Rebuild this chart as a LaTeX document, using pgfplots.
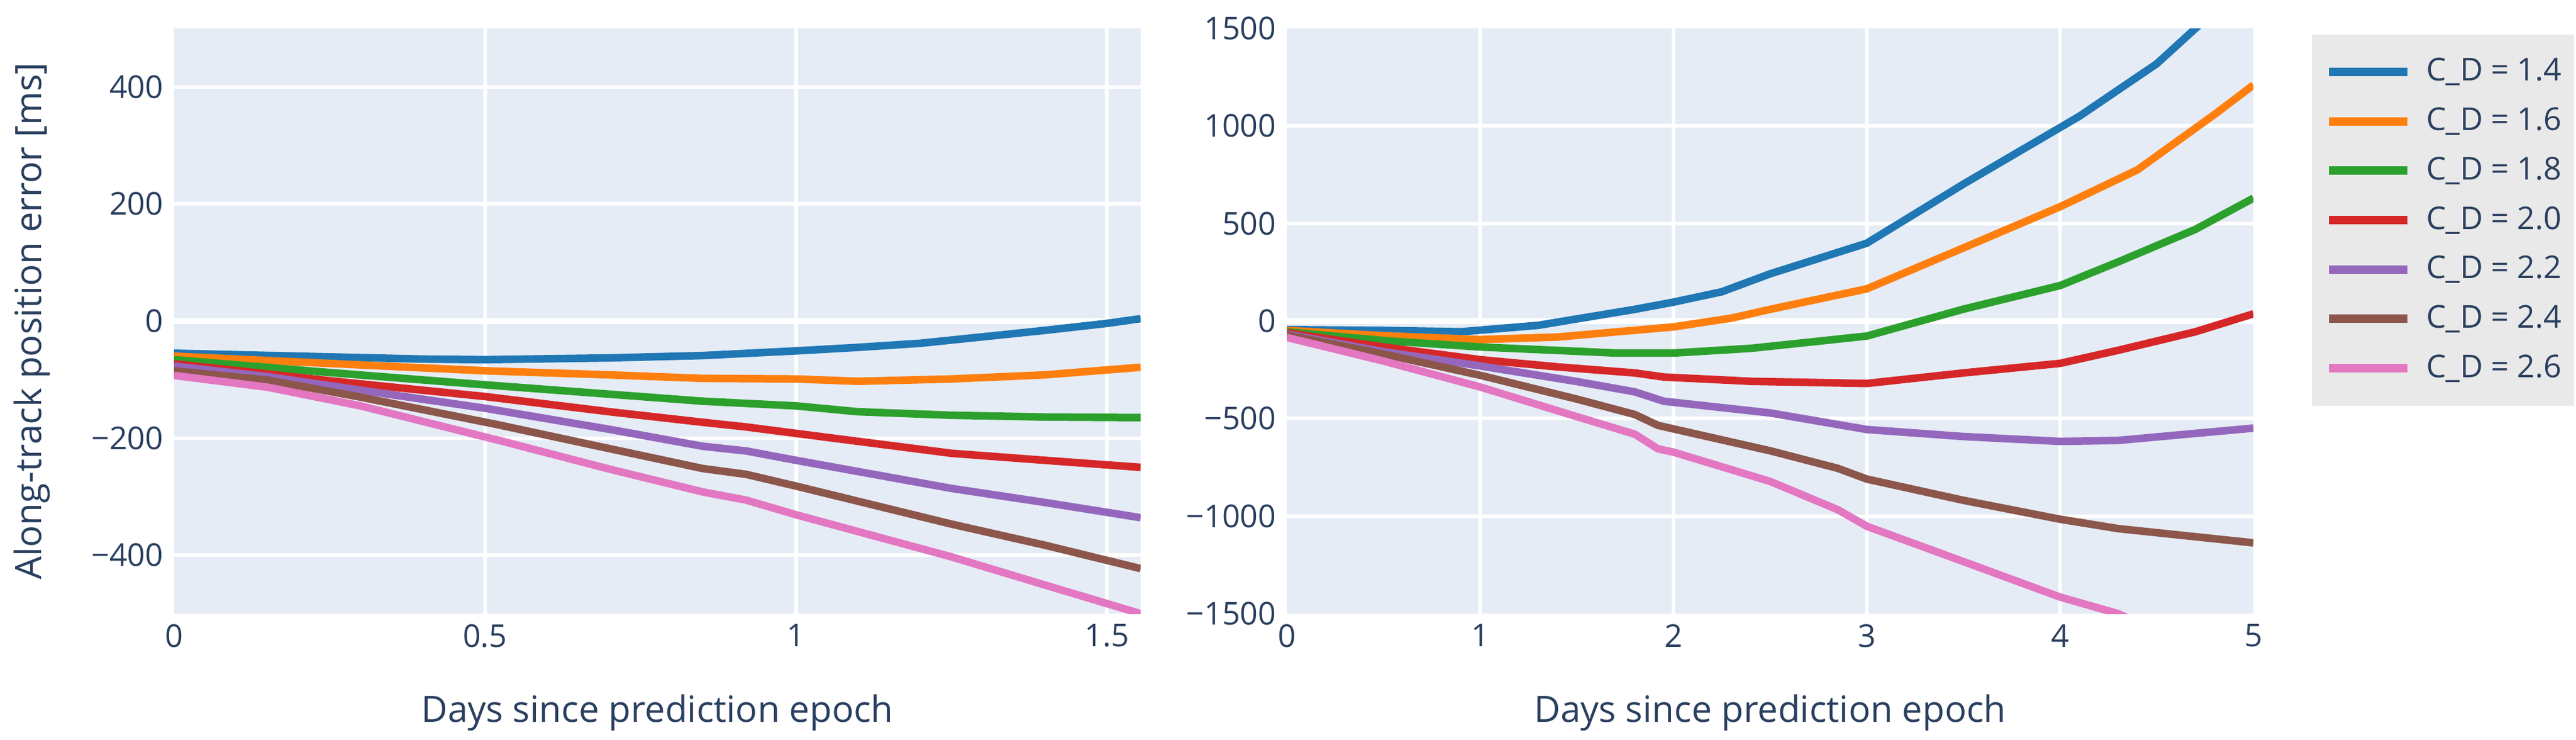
\documentclass[border=0pt]{standalone}
\usepackage{pgfplots}
\pgfplotsset{compat=1.18}
\usepackage{fontspec}
\setmainfont{Open Sans}

\definecolor{txt}{HTML}{2A3F5F}
\definecolor{plotbg}{HTML}{E5ECF6}
\definecolor{legbg}{HTML}{E9E9E9}
\definecolor{c1}{HTML}{1F77B4}
\definecolor{c2}{HTML}{FF7F0E}
\definecolor{c3}{HTML}{2CA02C}
\definecolor{c4}{HTML}{D62728}
\definecolor{c5}{HTML}{9467BD}
\definecolor{c6}{HTML}{8C564B}
\definecolor{c7}{HTML}{E377C2}

\pgfplotsset{
  plotly/.style={
    scale only axis, width=320pt, height=193.6pt,
    axis background/.style={fill=plotbg},
    axis line style={draw=none},
    major tick length=0pt,
    grid=major, grid style={white, line width=1.2pt},
    tick label style={font=\fontsize{10.4}{12}\selectfont, text=txt},
    label style={font=\fontsize{12}{14}\selectfont, text=txt},
    /pgf/number format/assume math mode=true,
    every axis plot/.append style={line width=2.5pt, line join=round, mark=none},
    extra x tick style={grid=none},
    extra y tick style={grid=none},
    xlabel style={at={(axis description cs:0.5,-0.185)}, anchor=base},
    xlabel={Days since prediction epoch},
  },
}

\begin{document}
\begin{tikzpicture}
\useasboundingbox (0,0) rectangle (852.8pt,244.6pt);

% left: first 1.5 days
\begin{axis}[plotly, at={(57.6pt,41.6pt)}, anchor=south west,
  xmin=0, xmax=1.554, ymin=-500, ymax=500,
  xtick={0.5,1,1.5}, xticklabels={0.5,1,1.5},
  extra x ticks={0}, extra x tick labels={0},
  ytick={-400,-200,0,200,400}, yticklabels={−400,−200,0,200,400},
  ylabel={Along-track position error [ms]},
  ylabel style={at={(axis description cs:-0.1375,0.5)}, anchor=base},
]
\addplot[white, line width=2pt, forget plot] coordinates {(0,0) (1.554,0)};
\addplot[c1] coordinates {(0,-55) (0.2,-60) (0.4,-65) (0.5,-66) (0.7,-63) (0.85,-59) (1.0,-51) (1.1,-45) (1.2,-38) (1.3,-27) (1.4,-16) (1.5,-4) (1.554,4)};
\addplot[c2] coordinates {(0,-60) (0.2,-70) (0.4,-80) (0.5,-85) (0.7,-92) (0.85,-98) (1.0,-99) (1.1,-103) (1.25,-99) (1.4,-92) (1.554,-79)};
\addplot[c3] coordinates {(0,-66) (0.25,-88) (0.5,-109) (0.7,-125) (0.85,-137) (1.0,-145) (1.1,-155) (1.25,-161) (1.4,-164) (1.554,-165)};
\addplot[c4] coordinates {(0,-73) (0.25,-102) (0.5,-129) (0.7,-155) (0.85,-173) (0.92,-181) (1.0,-192) (1.25,-226) (1.4,-238) (1.554,-250)};
\addplot[c5] coordinates {(0,-77) (0.15,-95) (0.5,-149) (0.7,-185) (0.85,-214) (0.92,-222) (1.0,-238) (1.25,-286) (1.4,-310) (1.554,-336)};
\addplot[c6] coordinates {(0,-85) (0.15,-101) (0.3,-130) (0.52,-177) (0.7,-218) (0.85,-252) (0.92,-262) (1.0,-282) (1.25,-347) (1.4,-383) (1.554,-423)};
\addplot[c7] coordinates {(0,-93) (0.15,-113) (0.3,-145) (0.53,-206) (0.7,-253) (0.85,-292) (0.92,-306) (1.0,-331) (1.25,-403) (1.4,-451) (1.554,-500)};
\end{axis}

% right: five days
\begin{axis}[plotly, at={(426pt,41.6pt)}, anchor=south west,
  xmin=0, xmax=5, ymin=-1500, ymax=1500,
  xtick={1,2,3,4}, xticklabels={1,2,3,4},
  extra x ticks={0,5}, extra x tick labels={0,5},
  ytick={-1000,-500,0,500,1000}, yticklabels={−1000,−500,0,500,1000},
  extra y ticks={-1500,1500}, extra y tick labels={−1500,1500},
  legend style={at={(1.06,0.9907)}, anchor=north west, draw=none, fill=legbg,
    inner xsep=4.2pt, inner ysep=4.2pt, row sep=0pt, column sep=4.8pt,
    font=\fontsize{10.4}{12}\selectfont, text=txt,
    nodes={inner sep=0pt, minimum height=16.34pt}},
  legend cell align=left,
  legend image code/.code={\draw[#1, line width=2.8pt] (0pt,0pt) -- (26pt,0pt);},
]
\addplot[white, line width=2pt, forget plot] coordinates {(0,0) (5,0)};
\addplot[c1] coordinates {(0,-44) (0.5,-48) (0.9,-55) (1.3,-22) (1.8,60) (2,97) (2.25,150) (2.5,242) (3,399) (3.5,702) (4,992) (4.1,1050) (4.5,1319) (4.8,1590)};
\addplot[c2] coordinates {(0,-48) (0.5,-75) (1,-95) (1.4,-82) (2,-30) (2.3,15) (2.5,60) (3,165) (3.5,375) (4,586) (4.4,775) (4.8,1060) (5,1210)};
\addplot[c3] coordinates {(0,-55) (0.5,-100) (1,-133) (1.5,-155) (1.7,-164) (2,-164) (2.4,-140) (3,-77) (3.5,61) (4,182) (4.3,303) (4.7,470) (5,630)};
\addplot[c4] coordinates {(0,-60) (0.5,-133) (1,-198) (1.4,-235) (1.8,-266) (1.95,-287) (2.4,-309) (3,-320) (3.5,-266) (4,-217) (4.3,-150) (4.7,-55) (5,37)};
\addplot[c5] coordinates {(0,-67) (0.5,-157) (1,-230) (1.5,-310) (1.8,-363) (1.95,-411) (2.5,-471) (3,-556) (3.5,-592) (4,-617) (4.3,-612) (5,-549)};
\addplot[c6] coordinates {(0,-72) (0.5,-169) (1,-278) (1.5,-400) (1.8,-479) (1.92,-535) (2.5,-665) (2.85,-755) (3,-810) (3.5,-919) (4,-1016) (4.3,-1064) (5,-1137)};
\addplot[c7] coordinates {(0,-84) (0.5,-205) (1,-338) (1.5,-490) (1.8,-580) (1.92,-655) (2,-672) (2.5,-822) (2.85,-967) (3,-1052) (3.5,-1233) (4,-1415) (4.3,-1500) (4.4,-1545)};
\legend{C\_D = 1.4, C\_D = 1.6, C\_D = 1.8, C\_D = 2.0, C\_D = 2.2, C\_D = 2.4, C\_D = 2.6}
\end{axis}
\end{tikzpicture}
\end{document}
